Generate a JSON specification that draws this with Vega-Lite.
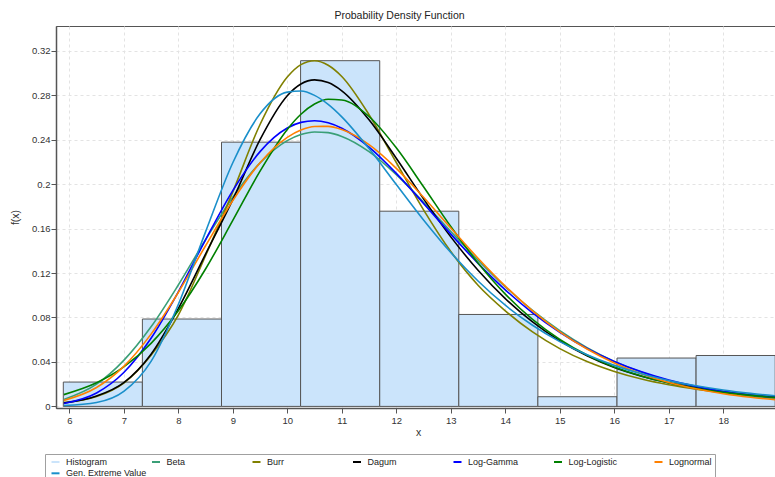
{
  "$schema": "https://vega.github.io/schema/vega-lite/v6.json",
  "width": 719,
  "height": 382,
  "autosize": {"type": "none"},
  "padding": {"left": 56, "top": 26, "right": 0, "bottom": 69},
  "background": "white",
  "title": {"text": "Probability Density Function", "fontSize": 10.5, "fontWeight": "normal", "font": "Liberation Sans", "color": "#222", "anchor": "middle", "dx": -16, "dy": 10, "offset": 7, "baseline": "alphabetic"},
  "config": {"view": {"stroke": "#555555", "strokeWidth": 1}, "font": "Liberation Sans"},
  "datasets": {
    "hist": [
      {"series": "Histogram", "x0": 5.890, "x1": 7.341, "density": 0.0219},
      {"series": "Histogram", "x0": 7.341, "x1": 8.793, "density": 0.0786},
      {"series": "Histogram", "x0": 8.793, "x1": 10.244, "density": 0.2377},
      {"series": "Histogram", "x0": 10.244, "x1": 11.696, "density": 0.3110},
      {"series": "Histogram", "x0": 11.696, "x1": 13.147, "density": 0.1756},
      {"series": "Histogram", "x0": 13.147, "x1": 14.598, "density": 0.0827},
      {"series": "Histogram", "x0": 14.598, "x1": 16.050, "density": 0.0087},
      {"series": "Histogram", "x0": 16.050, "x1": 17.501, "density": 0.0435},
      {"series": "Histogram", "x0": 17.501, "x1": 18.953, "density": 0.0458}
    ],
    "curves": [
      {"series": "Beta", "x": 5.9, "f": 0.0062}, {"series": "Beta", "x": 6.5, "f": 0.0200}, {"series": "Beta", "x": 7, "f": 0.0414}, {"series": "Beta", "x": 7.5, "f": 0.0716}, {"series": "Beta", "x": 8, "f": 0.1092}, {"series": "Beta", "x": 8.5, "f": 0.1499}, {"series": "Beta", "x": 9, "f": 0.1882}, {"series": "Beta", "x": 9.5, "f": 0.2191}, {"series": "Beta", "x": 10, "f": 0.2391}, {"series": "Beta", "x": 10.25, "f": 0.2446}, {"series": "Beta", "x": 10.5, "f": 0.2469}, {"series": "Beta", "x": 10.75, "f": 0.2463}, {"series": "Beta", "x": 11, "f": 0.2429}, {"series": "Beta", "x": 11.5, "f": 0.2292}, {"series": "Beta", "x": 12, "f": 0.2085}, {"series": "Beta", "x": 12.5, "f": 0.1837}, {"series": "Beta", "x": 13, "f": 0.1574}, {"series": "Beta", "x": 13.5, "f": 0.1316}, {"series": "Beta", "x": 14, "f": 0.1076}, {"series": "Beta", "x": 14.5, "f": 0.0863}, {"series": "Beta", "x": 15, "f": 0.0681}, {"series": "Beta", "x": 15.5, "f": 0.0529}, {"series": "Beta", "x": 16, "f": 0.0405}, {"series": "Beta", "x": 16.5, "f": 0.0307}, {"series": "Beta", "x": 17, "f": 0.0230}, {"series": "Beta", "x": 17.5, "f": 0.0170}, {"series": "Beta", "x": 18, "f": 0.0125}, {"series": "Beta", "x": 18.5, "f": 0.0091}, {"series": "Beta", "x": 19, "f": 0.0066},
      {"series": "Burr", "x": 5.9, "f": 0.0035}, {"series": "Burr", "x": 6.5, "f": 0.0088}, {"series": "Burr", "x": 7, "f": 0.0210}, {"series": "Burr", "x": 7.5, "f": 0.0461}, {"series": "Burr", "x": 8, "f": 0.0821}, {"series": "Burr", "x": 8.5, "f": 0.1356}, {"series": "Burr", "x": 9, "f": 0.1930}, {"series": "Burr", "x": 9.5, "f": 0.2536}, {"series": "Burr", "x": 10, "f": 0.2963}, {"series": "Burr", "x": 10.25, "f": 0.3075}, {"series": "Burr", "x": 10.5, "f": 0.3110}, {"series": "Burr", "x": 10.75, "f": 0.3069}, {"series": "Burr", "x": 11, "f": 0.2968}, {"series": "Burr", "x": 11.5, "f": 0.2624}, {"series": "Burr", "x": 12, "f": 0.2194}, {"series": "Burr", "x": 12.5, "f": 0.1768}, {"series": "Burr", "x": 13, "f": 0.1393}, {"series": "Burr", "x": 13.5, "f": 0.1090}, {"series": "Burr", "x": 14, "f": 0.0860}, {"series": "Burr", "x": 14.5, "f": 0.0670}, {"series": "Burr", "x": 15, "f": 0.0520}, {"series": "Burr", "x": 15.5, "f": 0.0403}, {"series": "Burr", "x": 16, "f": 0.0314}, {"series": "Burr", "x": 16.5, "f": 0.0246}, {"series": "Burr", "x": 17, "f": 0.0194}, {"series": "Burr", "x": 17.5, "f": 0.0154}, {"series": "Burr", "x": 18, "f": 0.0123}, {"series": "Burr", "x": 18.5, "f": 0.0099}, {"series": "Burr", "x": 19, "f": 0.0080},
      {"series": "Dagum", "x": 5.9, "f": 0.0030}, {"series": "Dagum", "x": 6.5, "f": 0.0093}, {"series": "Dagum", "x": 7, "f": 0.0214}, {"series": "Dagum", "x": 7.5, "f": 0.0470}, {"series": "Dagum", "x": 8, "f": 0.0880}, {"series": "Dagum", "x": 8.5, "f": 0.1370}, {"series": "Dagum", "x": 9, "f": 0.1860}, {"series": "Dagum", "x": 9.5, "f": 0.2400}, {"series": "Dagum", "x": 10, "f": 0.2795}, {"series": "Dagum", "x": 10.25, "f": 0.2900}, {"series": "Dagum", "x": 10.5, "f": 0.2937}, {"series": "Dagum", "x": 10.75, "f": 0.2913}, {"series": "Dagum", "x": 11, "f": 0.2839}, {"series": "Dagum", "x": 11.5, "f": 0.2578}, {"series": "Dagum", "x": 12, "f": 0.2232}, {"series": "Dagum", "x": 12.5, "f": 0.1867}, {"series": "Dagum", "x": 13, "f": 0.1525}, {"series": "Dagum", "x": 13.5, "f": 0.1225}, {"series": "Dagum", "x": 14, "f": 0.0970}, {"series": "Dagum", "x": 14.5, "f": 0.0760}, {"series": "Dagum", "x": 15, "f": 0.0590}, {"series": "Dagum", "x": 15.5, "f": 0.0455}, {"series": "Dagum", "x": 16, "f": 0.0350}, {"series": "Dagum", "x": 16.5, "f": 0.0272}, {"series": "Dagum", "x": 17, "f": 0.0212}, {"series": "Dagum", "x": 17.5, "f": 0.0167}, {"series": "Dagum", "x": 18, "f": 0.0132}, {"series": "Dagum", "x": 18.5, "f": 0.0105}, {"series": "Dagum", "x": 19, "f": 0.0084},
      {"series": "Log-Gamma", "x": 5.9, "f": 0.0026}, {"series": "Log-Gamma", "x": 6.5, "f": 0.0121}, {"series": "Log-Gamma", "x": 7, "f": 0.0305}, {"series": "Log-Gamma", "x": 7.5, "f": 0.0613}, {"series": "Log-Gamma", "x": 8, "f": 0.1030}, {"series": "Log-Gamma", "x": 8.5, "f": 0.1499}, {"series": "Log-Gamma", "x": 9, "f": 0.1941}, {"series": "Log-Gamma", "x": 9.5, "f": 0.2292}, {"series": "Log-Gamma", "x": 10, "f": 0.2504}, {"series": "Log-Gamma", "x": 10.25, "f": 0.2555}, {"series": "Log-Gamma", "x": 10.5, "f": 0.2570}, {"series": "Log-Gamma", "x": 10.75, "f": 0.2551}, {"series": "Log-Gamma", "x": 11, "f": 0.2502}, {"series": "Log-Gamma", "x": 11.5, "f": 0.2332}, {"series": "Log-Gamma", "x": 12, "f": 0.2096}, {"series": "Log-Gamma", "x": 12.5, "f": 0.1826}, {"series": "Log-Gamma", "x": 13, "f": 0.1550}, {"series": "Log-Gamma", "x": 13.5, "f": 0.1287}, {"series": "Log-Gamma", "x": 14, "f": 0.1049}, {"series": "Log-Gamma", "x": 14.5, "f": 0.0842}, {"series": "Log-Gamma", "x": 15, "f": 0.0667}, {"series": "Log-Gamma", "x": 15.5, "f": 0.0521}, {"series": "Log-Gamma", "x": 16, "f": 0.0404}, {"series": "Log-Gamma", "x": 16.5, "f": 0.0311}, {"series": "Log-Gamma", "x": 17, "f": 0.0237}, {"series": "Log-Gamma", "x": 17.5, "f": 0.0180}, {"series": "Log-Gamma", "x": 18, "f": 0.0136}, {"series": "Log-Gamma", "x": 18.5, "f": 0.0103}, {"series": "Log-Gamma", "x": 19, "f": 0.0077},
      {"series": "Log-Logistic", "x": 5.9, "f": 0.0106}, {"series": "Log-Logistic", "x": 6.5, "f": 0.0212}, {"series": "Log-Logistic", "x": 7, "f": 0.0355}, {"series": "Log-Logistic", "x": 7.5, "f": 0.0567}, {"series": "Log-Logistic", "x": 8, "f": 0.0860}, {"series": "Log-Logistic", "x": 8.5, "f": 0.1236}, {"series": "Log-Logistic", "x": 9, "f": 0.1673}, {"series": "Log-Logistic", "x": 9.5, "f": 0.2117}, {"series": "Log-Logistic", "x": 10, "f": 0.2492}, {"series": "Log-Logistic", "x": 10.25, "f": 0.2628}, {"series": "Log-Logistic", "x": 10.5, "f": 0.2720}, {"series": "Log-Logistic", "x": 10.75, "f": 0.2763}, {"series": "Log-Logistic", "x": 11, "f": 0.2757}, {"series": "Log-Logistic", "x": 11.5, "f": 0.2608}, {"series": "Log-Logistic", "x": 12, "f": 0.2326}, {"series": "Log-Logistic", "x": 12.5, "f": 0.1976}, {"series": "Log-Logistic", "x": 13, "f": 0.1618}, {"series": "Log-Logistic", "x": 13.5, "f": 0.1290}, {"series": "Log-Logistic", "x": 14, "f": 0.1010}, {"series": "Log-Logistic", "x": 14.5, "f": 0.0782}, {"series": "Log-Logistic", "x": 15, "f": 0.0602}, {"series": "Log-Logistic", "x": 15.5, "f": 0.0462}, {"series": "Log-Logistic", "x": 16, "f": 0.0355}, {"series": "Log-Logistic", "x": 16.5, "f": 0.0273}, {"series": "Log-Logistic", "x": 17, "f": 0.0211}, {"series": "Log-Logistic", "x": 17.5, "f": 0.0163}, {"series": "Log-Logistic", "x": 18, "f": 0.0127}, {"series": "Log-Logistic", "x": 18.5, "f": 0.0099}, {"series": "Log-Logistic", "x": 19, "f": 0.0078},
      {"series": "Lognormal", "x": 5.9, "f": 0.0053}, {"series": "Lognormal", "x": 6.5, "f": 0.0170}, {"series": "Lognormal", "x": 7, "f": 0.0360}, {"series": "Lognormal", "x": 7.5, "f": 0.0650}, {"series": "Lognormal", "x": 8, "f": 0.1025}, {"series": "Lognormal", "x": 8.5, "f": 0.1445}, {"series": "Lognormal", "x": 9, "f": 0.1852}, {"series": "Lognormal", "x": 9.5, "f": 0.2192}, {"series": "Lognormal", "x": 10, "f": 0.2420}, {"series": "Lognormal", "x": 10.25, "f": 0.2486}, {"series": "Lognormal", "x": 10.5, "f": 0.2518}, {"series": "Lognormal", "x": 10.75, "f": 0.2519}, {"series": "Lognormal", "x": 11, "f": 0.2490}, {"series": "Lognormal", "x": 11.5, "f": 0.2354}, {"series": "Lognormal", "x": 12, "f": 0.2141}, {"series": "Lognormal", "x": 12.5, "f": 0.1881}, {"series": "Lognormal", "x": 13, "f": 0.1605}, {"series": "Lognormal", "x": 13.5, "f": 0.1333}, {"series": "Lognormal", "x": 14, "f": 0.1082}, {"series": "Lognormal", "x": 14.5, "f": 0.0860}, {"series": "Lognormal", "x": 15, "f": 0.0671}, {"series": "Lognormal", "x": 15.5, "f": 0.0516}, {"series": "Lognormal", "x": 16, "f": 0.0390}, {"series": "Lognormal", "x": 16.5, "f": 0.0292}, {"series": "Lognormal", "x": 17, "f": 0.0215}, {"series": "Lognormal", "x": 17.5, "f": 0.0158}, {"series": "Lognormal", "x": 18, "f": 0.0114}, {"series": "Lognormal", "x": 18.5, "f": 0.0082}, {"series": "Lognormal", "x": 19, "f": 0.0059},
      {"series": "Gen. Extreme Value", "x": 5.9, "f": 0.0008}, {"series": "Gen. Extreme Value", "x": 6.5, "f": 0.0035}, {"series": "Gen. Extreme Value", "x": 7, "f": 0.0135}, {"series": "Gen. Extreme Value", "x": 7.5, "f": 0.0405}, {"series": "Gen. Extreme Value", "x": 8, "f": 0.0917}, {"series": "Gen. Extreme Value", "x": 8.5, "f": 0.1570}, {"series": "Gen. Extreme Value", "x": 9, "f": 0.2192}, {"series": "Gen. Extreme Value", "x": 9.5, "f": 0.2632}, {"series": "Gen. Extreme Value", "x": 10, "f": 0.2827}, {"series": "Gen. Extreme Value", "x": 10.25, "f": 0.2837}, {"series": "Gen. Extreme Value", "x": 10.5, "f": 0.2798}, {"series": "Gen. Extreme Value", "x": 10.75, "f": 0.2717}, {"series": "Gen. Extreme Value", "x": 11, "f": 0.2605}, {"series": "Gen. Extreme Value", "x": 11.5, "f": 0.2319}, {"series": "Gen. Extreme Value", "x": 12, "f": 0.1996}, {"series": "Gen. Extreme Value", "x": 12.5, "f": 0.1677}, {"series": "Gen. Extreme Value", "x": 13, "f": 0.1384}, {"series": "Gen. Extreme Value", "x": 13.5, "f": 0.1128}, {"series": "Gen. Extreme Value", "x": 14, "f": 0.0910}, {"series": "Gen. Extreme Value", "x": 14.5, "f": 0.0730}, {"series": "Gen. Extreme Value", "x": 15, "f": 0.0583}, {"series": "Gen. Extreme Value", "x": 15.5, "f": 0.0464}, {"series": "Gen. Extreme Value", "x": 16, "f": 0.0369}, {"series": "Gen. Extreme Value", "x": 16.5, "f": 0.0293}, {"series": "Gen. Extreme Value", "x": 17, "f": 0.0233}, {"series": "Gen. Extreme Value", "x": 17.5, "f": 0.0185}, {"series": "Gen. Extreme Value", "x": 18, "f": 0.0147}, {"series": "Gen. Extreme Value", "x": 18.5, "f": 0.0117}, {"series": "Gen. Extreme Value", "x": 19, "f": 0.0093}
    ]
  },
  "layer": [
    {
      "data": {"name": "hist"},
      "mark": {"type": "bar", "stroke": "#555555", "strokeWidth": 1, "clip": true},
      "encoding": {
        "x": {
          "field": "x0", "type": "quantitative",
          "scale": {"domain": [5.756, 18.949], "nice": false, "zero": false},
          "axis": {
            "title": "x",
            "values": [6, 6.25, 6.5, 6.75, 7, 7.25, 7.5, 7.75, 8, 8.25, 8.5, 8.75, 9, 9.25, 9.5, 9.75, 10, 10.25, 10.5, 10.75, 11, 11.25, 11.5, 11.75, 12, 12.25, 12.5, 12.75, 13, 13.25, 13.5, 13.75, 14, 14.25, 14.5, 14.75, 15, 15.25, 15.5, 15.75, 16, 16.25, 16.5, 16.75, 17, 17.25, 17.5, 17.75, 18, 18.25, 18.5, 18.75],
            "labelExpr": "datum.value % 1 === 0 ? '' + datum.value : ''",
            "labelOverlap": false, "labelFlush": false, "labelBound": false,
            "tickSize": {"condition": {"test": "datum.value % 1 === 0", "value": 5}, "value": 3},
            "grid": true,
            "gridOpacity": {"condition": {"test": "datum.value % 1 === 0", "value": 1}, "value": 0},
            "gridColor": "#e3e3e3", "gridDash": [3, 3], "gridWidth": 1,
            "domainColor": "#555555", "domainWidth": 1.5, "tickColor": "#555555",
            "labelColor": "#333333", "labelFont": "Liberation Sans", "labelFontSize": 9.5, "labelPadding": 2,
            "titleFont": "Liberation Sans", "titleFontSize": 10.5, "titleFontWeight": "normal", "titleColor": "#333333",
            "titleX": 362, "titleY": 27, "titleBaseline": "alphabetic"
          }
        },
        "x2": {"field": "x1"},
        "y": {
          "field": "density", "type": "quantitative",
          "scale": {"domain": [-0.00144, 0.3422], "nice": false, "zero": false},
          "axis": {
            "title": "f(x)",
            "values": [0, 0.01, 0.02, 0.03, 0.04, 0.05, 0.06, 0.07, 0.08, 0.09, 0.1, 0.11, 0.12, 0.13, 0.14, 0.15, 0.16, 0.17, 0.18, 0.19, 0.2, 0.21, 0.22, 0.23, 0.24, 0.25, 0.26, 0.27, 0.28, 0.29, 0.3, 0.31, 0.32, 0.33, 0.34],
            "labelExpr": "round(datum.value * 100) % 4 === 0 ? '' + round(datum.value * 100) / 100 : ''",
            "labelOverlap": false, "labelFlush": false, "labelBound": false,
            "tickSize": {"condition": {"test": "round(datum.value * 100) % 4 === 0", "value": 5}, "value": 3},
            "grid": true,
            "gridOpacity": {"condition": {"test": "round(datum.value * 100) % 4 === 0", "value": 1}, "value": 0},
            "gridColor": "#e3e3e3", "gridDash": [3, 3], "gridWidth": 1,
            "domainColor": "#555555", "domainWidth": 1.5, "tickColor": "#555555",
            "labelColor": "#333333", "labelFont": "Liberation Sans", "labelFontSize": 9.5, "labelPadding": 1,
            "titleFont": "Liberation Sans", "titleFontSize": 10.5, "titleFontWeight": "normal", "titleColor": "#333333",
            "titleX": -38, "titleBaseline": "alphabetic"
          }
        },
        "y2": {"datum": 0},
        "color": {
          "field": "series", "type": "nominal",
          "scale": {
            "domain": ["Histogram", "Beta", "Burr", "Dagum", "Log-Gamma", "Log-Logistic", "Lognormal", "Gen. Extreme Value"],
            "range": ["#cbe4fb", "#3a9f77", "#808000", "#000000", "#0000ff", "#008000", "#ff8000", "#1a8fca"]
          },
          "legend": {
            "title": null, "orient": "none", "legendX": -11, "legendY": 428,
            "direction": "horizontal", "columns": 7, "gridAlign": "all",
            "columnPadding": 0.5, "rowPadding": 1.3, "padding": 3,
            "strokeColor": "#a0a0a0", "fillColor": "white",
            "symbolSize": 64, "symbolType": "stroke", "symbolStrokeWidth": 2, "symbolOffset": 2.5,
            "labelFont": "Liberation Sans", "labelFontSize": 9, "labelColor": "#222222", "labelOffset": 5.5, "labelLimit": 200,
            "encode": {
              "symbols": {
                "size": {"value": 210},
                "shape": {"condition": {"test": "datum.value === 'Histogram'", "value": "M-0.86,-0.5H0.86V0.5H-0.86Z"}, "value": "stroke"},
                "opacity": {"value": 1}
              }
            }
          }
        }
      }
    },
    {
      "data": {"name": "curves"},
      "mark": {"type": "line", "strokeWidth": 1.6, "interpolate": "monotone", "clip": true},
      "encoding": {
        "x": {"field": "x", "type": "quantitative", "scale": {"domain": [5.756, 18.949], "nice": false, "zero": false}},
        "y": {"field": "f", "type": "quantitative", "scale": {"domain": [-0.00144, 0.3422], "nice": false, "zero": false}},
        "color": {"field": "series", "type": "nominal", "legend": null}
      }
    }
  ]
}
